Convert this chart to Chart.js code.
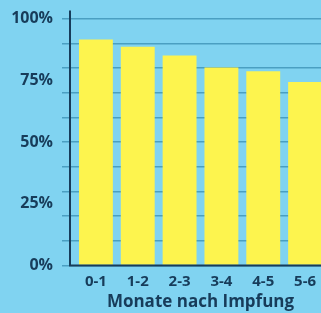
<!DOCTYPE html>
<html>
<head>
<meta charset="utf-8">
<script src="https://cdn.jsdelivr.net/npm/chart.js"></script>
<style>
  html,body{margin:0;padding:0;background:#80d3f1;overflow:hidden;}
  #wrap{width:330px;height:313px;position:relative;}
</style>
</head>
<body>
<div id="wrap"><canvas id="c"></canvas></div>
<script>
const categories = ['0-1','1-2','2-3','3-4','4-5','5-6'];
const protection = [91.5, 88.6, 85.1, 80.2, 78.7, 74.3];
const gridValues = [0,10,20,25,30,40,50,60,70,75,80,90,100];
const labelValues = [0,25,50,75,100];
const xTitle = 'Monate nach Impfung';

const navy = '#173c5a';
const gridCol = '#4a9fc2';

// axis lines sit a few px left of the first category
const axisLines = {
  id:'axisLines',
  afterDatasetsDraw(chart){
    const a = chart.chartArea, g = chart.ctx;
    g.save();
    g.strokeStyle = navy; g.lineWidth = 2;
    g.beginPath();
    g.moveTo(a.left-5, a.top-8); g.lineTo(a.left-5, a.bottom);
    g.lineTo(a.right+10, a.bottom);
    g.stroke();
    g.restore();
  }
};

new Chart(document.getElementById('c'), {
  type:'bar',
  data:{labels:categories, datasets:[{data:protection, backgroundColor:'#fdf44e', barPercentage:0.81, categoryPercentage:1}]},
  options:{
    responsive:true, maintainAspectRatio:false, animation:false,
    layout:{padding:{top:13.5, right:4, left:0, bottom:0}},
    plugins:{legend:{display:false}, tooltip:{enabled:false}},
    scales:{
      x:{
        grid:{display:false}, border:{display:false},
        ticks:{color:navy, font:{family:'Open Sans', size:15, weight:'bold'}, padding:-1},
        title:{display:true, text:xTitle, color:navy, font:{family:'Open Sans', size:17, weight:'bold'}, padding:{top:0,bottom:1}},
        afterFit(s){ s.height = 47.5; }
      },
      y:{
        min:0, max:100,
        afterBuildTicks(s){ s.ticks = gridValues.map(v=>({value:v})); },
        afterFit(s){ s.width = 75; },
        border:{display:false},
        grid:{
          color:c=> c.tick && c.tick.value%10===0 ? gridCol : 'rgba(0,0,0,0)',
          tickColor:c=> c.tick && c.tick.value%10===0 ? gridCol : 'rgba(0,0,0,0)',
          tickLength:13, lineWidth:1.5
        },
        ticks:{
          autoSkip:false, padding:9, color:navy,
          font:{family:'Open Sans', size:16, weight:'bold'},
          callback:v=> labelValues.includes(v) ? v+'%' : ''
        }
      }
    }
  },
  plugins:[axisLines]
});
</script>
</body>
</html>
